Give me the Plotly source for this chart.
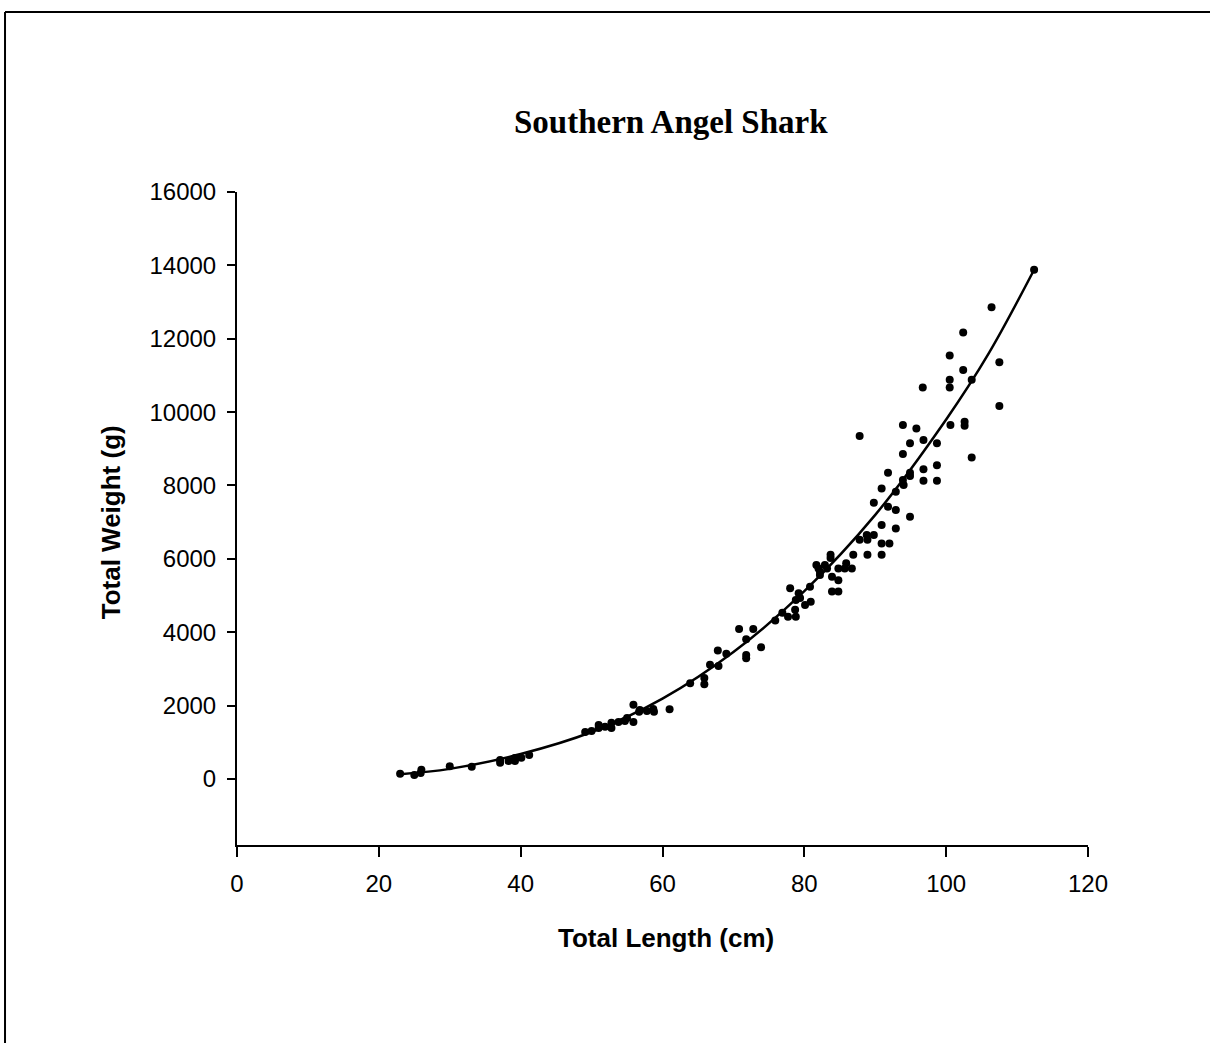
import plotly.graph_objects as go

# Observed data: total length (cm) and total weight (g)
length_cm = [23.0, 25.0, 25.9, 26.0, 30.0, 33.1, 37.1, 37.1, 38.3, 39.2, 39.2, 40.1, 41.2,
             49.1, 50.0, 51.0, 51.0, 51.9, 52.8, 52.8, 53.8, 54.7, 55.0, 55.9, 55.9, 56.7,
             56.8, 57.8, 58.7, 58.8, 61.0, 63.9, 65.9, 65.9, 66.7, 67.8, 67.9, 69.0, 70.8,
             71.8, 71.8, 71.8, 72.8, 73.9, 75.9, 76.9, 77.7, 78.0, 78.7, 78.8, 78.8, 79.2,
             79.4, 80.1, 80.9, 80.8, 81.7, 82.0, 82.2, 82.2, 82.9, 83.2, 83.7, 83.7, 83.9,
             83.9, 84.8, 84.8, 84.8, 85.7, 85.9, 86.7, 86.9, 87.8, 87.8, 88.8, 88.9, 88.9,
             89.8, 89.8, 90.9, 90.9, 92.0, 90.9, 91.8, 92.9, 92.9, 90.9, 91.8, 92.9, 93.9,
             94.0, 94.9, 94.9, 94.9, 93.9, 93.9, 94.9, 95.8, 96.8, 96.8, 96.8, 98.7, 98.7,
             98.7, 100.6, 96.7, 100.5, 100.5, 100.5, 102.4, 102.4, 103.6, 102.6, 102.6, 103.6,
             106.4, 107.5, 107.5, 112.4]
weight_g = [140, 110, 160, 250, 350, 330, 520, 440, 490, 570, 490, 580, 650,
            1280, 1310, 1470, 1390, 1420, 1530, 1390, 1550, 1580, 1660, 2020, 1550, 1830,
            1880, 1850, 1910, 1830, 1900, 2610, 2750, 2580, 3110, 3500, 3080, 3410, 4090,
            3810, 3380, 3290, 4090, 3590, 4320, 4530, 4420, 5200, 4610, 4420, 4880, 5060,
            4930, 4740, 4830, 5240, 5830, 5740, 5650, 5560, 5830, 5740, 6110, 6020, 5510,
            5110, 5740, 5420, 5110, 5740, 5880, 5740, 6110, 6520, 9350, 6650, 6520, 6110,
            6650, 7530, 6110, 6420, 6420, 6920, 7420, 7330, 6830, 7920, 8350, 7830, 8150,
            8010, 7150, 8350, 8260, 8860, 9650, 9150, 9550, 9240, 8440, 8130, 8550, 8130,
            9150, 9650, 10670, 10880, 10670, 11540, 12170, 11150, 10880, 9740, 9630, 8760,
            12860, 11360, 10170, 13880]

# Fitted curve
curve_length = [23, 30, 40, 50, 60, 70, 80, 90, 100, 106, 112.4]
curve_weight = [130, 275, 680, 1280, 2190, 3460, 5120, 7200, 9800, 11600, 13880]

x_ticks = [0, 20, 40, 60, 80, 100, 120]
y_ticks = [0, 2000, 4000, 6000, 8000, 10000, 12000, 14000, 16000]

title_text = "Southern Angel Shark"
x_title = "Total Length (cm)"
y_title = "Total Weight (g)"

SANS = "Liberation Sans, Arial, sans-serif"
SERIF = "Liberation Serif, Times New Roman, serif"

fig = go.Figure()
fig.add_trace(go.Scatter(x=curve_length, y=curve_weight, mode="lines",
                         line=dict(color="black", width=2.5, shape="spline", smoothing=1.0),
                         hoverinfo="skip", showlegend=False))
fig.add_trace(go.Scatter(x=length_cm, y=weight_g, mode="markers",
                         marker=dict(color="black", size=8),
                         showlegend=False))

fig.update_layout(
    width=1210, height=1043,
    margin=dict(l=237, r=122, t=192, b=198),
    paper_bgcolor="white", plot_bgcolor="white",
    showlegend=False,
    xaxis=dict(range=[0, 120], tickvals=x_ticks, ticktext=[str(v) for v in x_ticks],
               showgrid=False, zeroline=False, showline=True, linecolor="black", linewidth=2,
               ticks="outside", ticklen=10, tickwidth=2, tickcolor="black",
               ticklabelstandoff=6,
               tickfont=dict(family=SANS, size=24, color="black")),
    yaxis=dict(range=[-1800, 16000], tickvals=y_ticks, ticktext=[str(v) for v in y_ticks],
               showgrid=False, zeroline=False, showline=True, linecolor="black", linewidth=2,
               ticks="outside", ticklen=8, tickwidth=2, tickcolor="black",
               ticklabelstandoff=6,
               tickfont=dict(family=SANS, size=24, color="black")),
    annotations=[
        dict(text="<b>" + title_text + "</b>", xref="paper", yref="paper",
             x=0.51, y=1.107, showarrow=False, xanchor="center", yanchor="middle",
             font=dict(family=SERIF, size=33, color="black")),
        dict(text="<b>" + x_title + "</b>", xref="paper", yref="paper",
             x=0.504, y=-0.142, showarrow=False, xanchor="center", yanchor="middle",
             font=dict(family=SANS, size=26, color="black")),
        dict(text="<b>" + y_title + "</b>", xref="paper", yref="paper",
             x=-0.147, y=0.494, showarrow=False, xanchor="center", yanchor="middle",
             textangle=-90, font=dict(family=SANS, size=26, color="black")),
    ],
    shapes=[
        dict(type="line", xref="paper", yref="paper", x0=-0.2726, x1=1.15, y0=1.2757, y1=1.2757,
             line=dict(color="black", width=2)),
        dict(type="line", xref="paper", yref="paper", x0=-0.2726, x1=-0.2726, y0=1.2757, y1=-0.31,
             line=dict(color="black", width=2)),
    ],
)

fig.write_html("out.html")
